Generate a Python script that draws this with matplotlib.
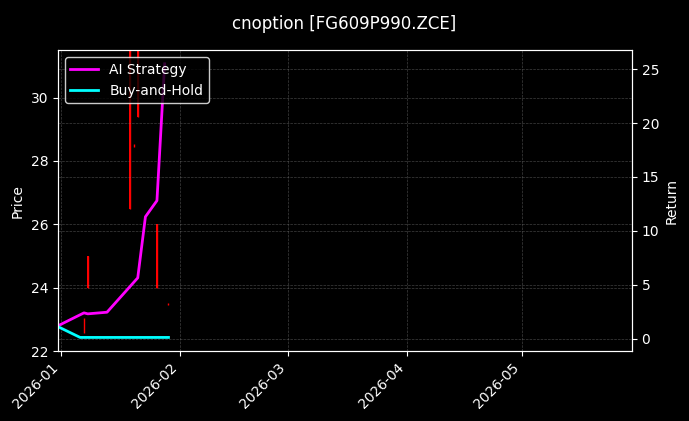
import matplotlib
matplotlib.use("Agg")
import matplotlib.pyplot as plt
import matplotlib.dates as mdates
import pandas as pd

plt.style.use("dark_background")

# price bars (only a few trading days have quotes)
bar_dates = pd.to_datetime(["2026-01-07", "2026-01-08", "2026-01-19", "2026-01-20",
                            "2026-01-21", "2026-01-26", "2026-01-29"])
bar_open = [22.8, 24.0, 26.5, 28.5, 29.4, 24.0, 23.5]
bar_close = [22.8, 25.0, 33.0, 28.5, 33.0, 26.0, 23.5]
bar_high = [23.04, 25.0, 33.0, 28.55, 33.0, 26.0, 23.53]
bar_low = [22.57, 24.0, 26.5, 28.45, 29.4, 24.0, 23.47]

# cumulative returns
ai_dates = pd.to_datetime(["2025-12-31", "2026-01-07", "2026-01-08", "2026-01-13",
                           "2026-01-21", "2026-01-23", "2026-01-26", "2026-01-28"])
ai_ret = [1.14, 2.38, 2.29, 2.44, 5.63, 11.3, 12.8, 25.5]
bh_dates = pd.to_datetime(["2025-12-31", "2026-01-06", "2026-01-29"])
bh_ret = [1.14, 0.1, 0.1]

fig = plt.figure(figsize=(6.89, 4.21), dpi=100)
ax = fig.add_axes([0.084, 0.166, 0.833, 0.715])

# wicks + bodies
ax.vlines(bar_dates, bar_low, bar_high, color="red", linewidth=1)
bodies = [abs(c - o) for o, c in zip(bar_open, bar_close)]
bottoms = [min(o, c) for o, c in zip(bar_open, bar_close)]
ax.bar(bar_dates, bodies, bottom=bottoms, width=0.5, color="red")

ax.set_ylim(22, 31.5)
ax.set_xlim(pd.Timestamp("2025-12-31 05:00"), pd.Timestamp("2026-05-29 15:00"))
ax.set_ylabel("Price")
ax.grid(True, linestyle="--", linewidth=0.5, color="gray", alpha=0.5)

ax2 = ax.twinx()
ax2.plot(ai_dates, ai_ret, color="#ff00ff", linewidth=2, label="AI Strategy")
ax2.plot(bh_dates, bh_ret, color="cyan", linewidth=2, label="Buy-and-Hold")
ax2.set_ylabel("Return")
ax2.set_yticks([0, 5, 10, 15, 20, 25])
ax2.grid(True, linestyle="--", linewidth=0.5, color="gray", alpha=0.5)
ax2.legend(loc="upper left", facecolor="black", edgecolor="white")

ax.xaxis.set_major_locator(mdates.MonthLocator())
ax.xaxis.set_major_formatter(mdates.DateFormatter("%Y-%m"))
plt.setp(ax.get_xticklabels(), rotation=45, ha="right")

fig.suptitle("cnoption [FG609P990.ZCE]", y=0.965)
fig.savefig("out.png", dpi=100)
